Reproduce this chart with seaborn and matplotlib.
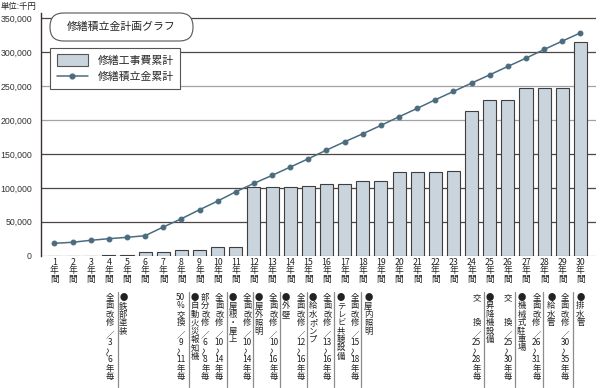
import re
import matplotlib
matplotlib.use("Agg")
import matplotlib.pyplot as plt
import matplotlib.transforms as mtransforms
from matplotlib.lines import Line2D
from matplotlib.patches import Patch, FancyBboxPatch
import seaborn as sns
import pandas as pd

# data (unit: 千円)
years = list(range(1, 31))
repair_cum = [0, 0, 0, 1500, 1500, 4800, 4800, 7800, 7800, 12500,
              12500, 101500, 101500, 101500, 103000, 105500, 105500, 110500, 110500, 123000,
              123000, 124000, 125000, 214000, 229500, 229500, 248000, 248000, 248000, 315000]
saving_cum = [18300, 19800, 22700, 25100, 27100, 29500, 42300, 54500, 67800, 80600,
              94300, 106700, 118500, 130700, 143000, 155800, 168000, 179800, 192200, 204900,
              217300, 230000, 242300, 254600, 266800, 279200, 291400, 304200, 316500, 328700]
y_ticks = [0, 50000, 100000, 150000, 200000, 250000, 300000, 350000]

# notes under the axis (vertical text)
note_texts = ["全面改修／3〜6年毎", "●鉄部塗装", "50%交換／9〜11年毎", "●自動火災報知機",
              "部分改修／6〜8年毎", "全面改修／10〜14年毎", "●屋根・屋上", "全面改修／10〜14年毎",
              "●屋外照明", "全面改修／10〜16年毎", "●外壁", "全面改修／12〜16年毎", "●給水ポンプ",
              "全面改修／13〜16年毎", "●テレビ共聴設備", "全面改修／15〜18年毎", "●屋内照明",
              "交　　換／25〜28年毎", "●昇降機設備", "交　　換／25〜30年毎", "●機械式駐車場",
              "全面改修／26〜31年毎", "●給水管", "全面改修／30〜35年毎", "●排水管"]
note_x = [3.05, 3.8, 6.95, 7.73, 8.32, 9.09, 9.83, 10.63, 11.28, 12.07, 12.75, 13.57, 14.27,
          15.04, 15.81, 16.55, 17.31, 23.27, 24.0, 25.02, 25.75, 26.58, 27.4, 28.15, 29.0]
sep_x = [3.48, 7.40, 9.51, 10.96, 12.43, 13.9, 15.41, 16.92, 23.7, 25.39, 26.94, 28.6]

df = pd.DataFrame({"year": [str(y) for y in years], "repair": repair_cum, "saving": saving_cum})

sns.set_style("white")
plt.rcParams["font.family"] = ["Noto Sans CJK JP", "DejaVu Sans"]

W, H = 600, 388
fig = plt.figure(figsize=(W / 100, H / 100), dpi=100)
ax = fig.add_axes([41 / W, 1 - 255.7 / H, 555 / W, (255.7 - 13) / H])

bar_col = "#c9d4dc"
line_col = "#4b6c7e"
grid_dark = "#4f4545"
grid_light = "#a3a3a3"

sns.barplot(data=df, x="year", y="repair", color=bar_col, saturation=1, width=0.72,
            edgecolor="#3f3f3f", linewidth=0.8, ax=ax, zorder=2)
sns.pointplot(data=df, x="year", y="saving", color=line_col, markers="o", errorbar=None,
              markersize=3.4, linewidth=1.1, ax=ax, zorder=3)

ax.set_xlim(-0.74, 29.86)
ax.set_ylim(0, 358000)
ax.set_yticks(y_ticks)
ax.set_yticklabels([f"{v:,}" for v in y_ticks], family=["Liberation Sans"], fontsize=6.3, color="#333333")
ax.set_xticks(range(30))
ax.set_xticklabels([f"{y}\n年\n間" for y in years], fontsize=6.3, linespacing=0.95, color="#222222")
ax.set_xlabel("")
ax.set_ylabel("")
ax.tick_params(axis="y", length=6, width=0.9, color=grid_dark, pad=0.5)
ax.tick_params(axis="x", length=0, pad=1.5)

ax.set_axisbelow(True)
ax.yaxis.grid(True, linewidth=0.9)
for v, gl in zip(y_ticks, ax.get_ygridlines()):
    gl.set_color(grid_light if v in (0, 200000, 250000) else grid_dark)
for sp in ["top", "right", "bottom"]:
    ax.spines[sp].set_visible(False)
ax.spines["left"].set_color("#3a3030")
ax.spines["left"].set_linewidth(1.0)

# legend
handles = [Patch(facecolor=bar_col, edgecolor="#555555", linewidth=0.8),
           Line2D([], [], color=line_col, marker="o", markersize=3.4, linewidth=1.1)]
leg = ax.legend(handles, ["修繕工事費累計", "修繕積立金累計"], loc="upper left",
                bbox_to_anchor=(50 / W, 1 - 48 / H), bbox_transform=fig.transFigure,
                borderaxespad=0, fancybox=False, framealpha=1, edgecolor="#555555",
                fontsize=7.8, handlelength=2.9, handleheight=1.2, handletextpad=0.9,
                labelspacing=0.5, borderpad=0.6)
leg.get_frame().set_linewidth(0.8)
leg.set_zorder(5)

# title capsule
cap = FancyBboxPatch((50, H - 41), 143, 28, boxstyle="round,pad=0,rounding_size=13.5",
                     transform=mtransforms.IdentityTransform(), facecolor="white",
                     edgecolor="#555555", linewidth=0.8, zorder=5)
fig.add_artist(cap)
fig.text(121.5 / W, 1 - 27 / H, "修繕積立金計画グラフ", ha="center", va="center",
         fontsize=7.8, color="#222222", zorder=6)
fig.text(1 / W, 1 - 6 / H, "単位:千円", ha="left", va="center", fontsize=6, color="#222222")

# vertical notes
blend = mtransforms.blended_transform_factory(ax.transData, fig.transFigure)


def vtext(x, s, y0=297.5, step=8.4, size=6.0):
    tokens = re.findall(r"\d+|.", s)
    y = y0
    for i, t in enumerate(tokens):
        if i > 0:
            y += step * (1.4 if t == "／" else 1.0)
        if t.strip() == "":
            continue
        if t == "〜":
            ax.text(x, 1 - y / H, t, transform=blend, ha="center", va="center", fontsize=size + 0.5,
                    rotation=90, color="#222222", clip_on=False)
        else:
            ax.text(x, 1 - y / H, t, transform=blend, ha="center", va="center", fontsize=size,
                    color="#222222", clip_on=False)


for x, s in zip(note_x, note_texts):
    vtext(x, s)
for x in sep_x:
    fig.add_artist(Line2D([x, x], [1 - 292 / H, 1 - 387 / H], transform=blend,
                          color="#8c8c8c", linewidth=0.9))

fig.savefig("out.png", dpi=100)
plt.close(fig)
